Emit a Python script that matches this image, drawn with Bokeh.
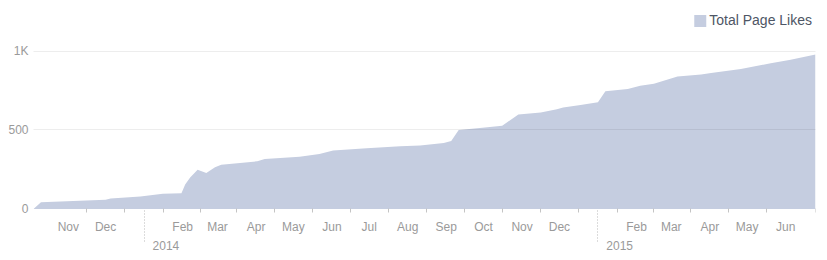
import pandas as pd
from bokeh.plotting import figure
from bokeh.models import Range1d, LinearAxis, FixedTicker, ColumnDataSource
from bokeh.embed import file_html
from bokeh.resources import INLINE

# ---- data ----
dates = ["2013-10-04", "2013-10-10", "2013-12-01", "2013-12-05", "2013-12-29",
         "2014-01-16", "2014-01-31", "2014-02-03", "2014-02-07", "2014-02-13",
         "2014-02-20", "2014-02-27", "2014-03-04", "2014-03-17", "2014-04-02",
         "2014-04-08", "2014-05-06", "2014-05-22", "2014-06-02", "2014-06-29",
         "2014-07-26", "2014-08-11", "2014-08-30", "2014-09-05", "2014-09-11",
         "2014-09-28", "2014-10-16", "2014-10-29", "2014-11-16", "2014-11-29",
         "2014-12-04", "2014-12-18", "2015-01-01", "2015-01-07", "2015-01-25",
         "2015-02-04", "2015-02-15", "2015-03-06", "2015-03-25", "2015-04-02",
         "2015-04-26", "2015-05-20", "2015-06-05", "2015-06-25"]
likes = [0, 43, 58, 66, 79,
         96, 100, 155, 200, 248,
         228, 264, 280, 290, 302,
         316, 330, 348, 370, 385,
         397, 402, 418, 430, 500,
         513, 527, 598, 610, 632,
         642, 658, 675, 745, 760,
         780, 792, 838, 851, 861,
         886, 922, 944, 978]
series_name = "Total Page Likes"

month_labels = ["Nov", "Dec", "Feb", "Mar", "Apr", "May", "Jun", "Jul", "Aug",
                "Sep", "Oct", "Nov", "Dec", "Feb", "Mar", "Apr", "May", "Jun"]
month_dates = ["2013-11-01", "2013-12-01", "2014-02-01", "2014-03-01", "2014-04-01",
               "2014-05-01", "2014-06-01", "2014-07-01", "2014-08-01", "2014-09-01",
               "2014-10-01", "2014-11-01", "2014-12-01", "2015-02-01", "2015-03-01",
               "2015-04-01", "2015-05-01", "2015-06-01"]
year_labels = ["2014", "2015"]
year_dates = ["2014-01-01", "2015-01-01"]
y_ticks = [0, 500, 1000]
y_tick_labels = ["0", "500", "1K"]

# ---- helpers ----
REF = pd.Timestamp("2014-01-01")


def day(s):
    return (pd.Timestamp(s) - REF).total_seconds() / 86400.0


x = [day(d) for d in dates]
src = ColumnDataSource(dict(x=x, likes=likes))

# mid-month tick marks
starts = pd.date_range("2013-11-01", "2015-06-01", freq="MS")
mid_ticks = [(day(starts[i]) + day(starts[i + 1])) / 2.0 for i in range(len(starts) - 1)]
mid_ticks.append(x[-1])

month_pos = [day(d) for d in month_dates]
year_pos = [day(d) for d in year_dates]
year_label_pos = [v + 17.5 for v in year_pos]

GRAY = "#9a9a9a"
FONT = "Liberation Sans"

p = figure(width=827, height=260, output_backend="svg", toolbar_location=None,
           x_axis_location=None, y_axis_location="left",
           x_range=Range1d(x[0], x[-1]), y_range=Range1d(-326, 1262.7),
           min_border_left=33, min_border_right=12, min_border_top=9,
           min_border_bottom=0, outline_line_color=None)
p.background_fill_color = "white"
p.border_fill_color = "white"

p.varea(x="x", y1=0, y2="likes", source=src, fill_color="#c5cde0",
        legend_label=series_name)

# grid
p.xgrid.visible = False
p.ygrid.ticker = FixedTicker(ticks=[500, 1000])
p.ygrid.grid_line_color = "black"
p.ygrid.grid_line_alpha = 0.07
p.ygrid.level = "overlay"

# y axis
ya = p.yaxis[0]
ya.ticker = FixedTicker(ticks=y_ticks)
ya.major_label_overrides = {t: l for t, l in zip(y_ticks, y_tick_labels)}
ya.axis_line_color = None
ya.major_tick_line_color = None
ya.minor_tick_line_color = None
ya.major_tick_out = 0
ya.major_tick_in = 0
ya.major_label_standoff = 5
ya.major_label_text_font = FONT
ya.major_label_text_font_size = "12px"
ya.major_label_text_color = GRAY

# x tick marks (mid-month)
ax_ticks = LinearAxis(ticker=FixedTicker(ticks=mid_ticks), fixed_location=0)
ax_ticks.axis_line_color = None
ax_ticks.major_tick_out = 4
ax_ticks.major_tick_in = 0
ax_ticks.major_tick_line_color = "#c4c4c4"
ax_ticks.minor_tick_line_color = None
ax_ticks.major_label_text_alpha = 0
ax_ticks.major_label_text_font_size = "1px"
p.add_layout(ax_ticks, "below")

# month labels
ax_months = LinearAxis(ticker=FixedTicker(ticks=month_pos), fixed_location=0)
ax_months.major_label_overrides = {t: l for t, l in zip(month_pos, month_labels)}
ax_months.axis_line_color = None
ax_months.major_tick_line_color = None
ax_months.minor_tick_line_color = None
ax_months.major_tick_out = 0
ax_months.major_tick_in = 0
ax_months.major_label_standoff = 11
ax_months.major_label_text_font = FONT
ax_months.major_label_text_font_size = "12px"
ax_months.major_label_text_color = GRAY
p.add_layout(ax_months, "below")

# year boundaries (dotted)
ax_ydiv = LinearAxis(ticker=FixedTicker(ticks=year_pos), fixed_location=0)
ax_ydiv.axis_line_color = None
ax_ydiv.major_tick_out = 33
ax_ydiv.major_tick_in = 0
ax_ydiv.major_tick_line_color = "#b8b8b8"
ax_ydiv.major_tick_line_dash = "1 2"
ax_ydiv.minor_tick_line_color = None
ax_ydiv.major_label_text_alpha = 0
ax_ydiv.major_label_text_font_size = "1px"
p.add_layout(ax_ydiv, "below")

# year labels
ax_years = LinearAxis(ticker=FixedTicker(ticks=year_label_pos), fixed_location=0)
ax_years.major_label_overrides = {t: l for t, l in zip(year_label_pos, year_labels)}
ax_years.axis_line_color = None
ax_years.major_tick_line_color = None
ax_years.minor_tick_line_color = None
ax_years.major_tick_out = 0
ax_years.major_tick_in = 0
ax_years.major_label_standoff = 32
ax_years.major_label_text_font = FONT
ax_years.major_label_text_font_size = "12px"
ax_years.major_label_text_color = GRAY
p.add_layout(ax_years, "below")

# legend
lg = p.legend[0]
lg.location = "top_right"
lg.border_line_color = None
lg.background_fill_alpha = 0
lg.padding = 3
lg.margin = 3
lg.spacing = 0
lg.glyph_width = 15
lg.glyph_height = 15
lg.label_height = 15
lg.label_standoff = 2
lg.label_text_font = FONT
lg.label_text_font_size = "14px"
lg.label_text_color = "#4e5665"

open("out.html", "w").write(file_html(p, INLINE))
